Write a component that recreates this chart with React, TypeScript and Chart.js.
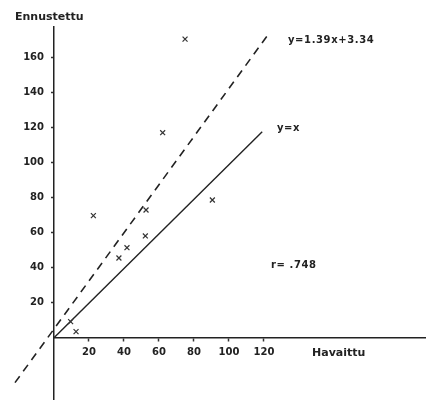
import { useEffect, useRef } from "react";
import { Chart, registerables } from "chart.js";

Chart.register(...registerables);

// Tick values
const xTicks = [20, 40, 60, 80, 100, 120];
const yTicks = [20, 40, 60, 80, 100, 120, 140, 160];

// Observed (Havaittu) vs predicted (Ennustettu)
const observed = [74.9, 62.1, 22.5, 52.6, 52.2, 41.7, 37.1, 90.5, 9.5, 12.6];
const predicted = [170.4, 117.0, 69.7, 72.9, 58.1, 51.4, 45.5, 78.6, 9.2, 3.5];

// Regression line y = 1.39x + 3.34 (end points)
const regX = [-22.3, 122.9];
const regY = [-25.6, 173.7];

// Identity line y = x
const identX = [0, 119];
const identY = [0, 117.5];

const xTitle = "Havaittu";
const yTitle = "Ennustettu";
const regLabel = "y=1.39x+3.34";
const identLabel = "y=x";
const rLabel = "r= .748";

const INK = "#222";
const FONT = '"DejaVu Sans", "Liberation Sans", sans-serif';

const zeroPadding = (s: any) => {
  s.paddingLeft = 0;
  s.paddingRight = 0;
  s.paddingTop = 0;
  s.paddingBottom = 0;
};

const textPlugin = {
  id: "textPlugin",
  afterDraw(chart: any) {
    const ctx = chart.ctx;
    ctx.save();
    ctx.fillStyle = INK;
    ctx.textAlign = "left";
    ctx.textBaseline = "middle";
    ctx.font = `bold 11px ${FONT}`;
    ctx.fillText(yTitle, 15, 17);
    ctx.fillText(xTitle, 312, 353);
    ctx.font = `bold 10px ${FONT}`;
    (ctx as any).letterSpacing = "0.6px";
    ctx.fillText(regLabel, 288, 40);
    ctx.fillText(identLabel, 277, 128);
    ctx.fillText(rLabel, 271, 265);
    (ctx as any).letterSpacing = "0px";
    ctx.restore();
  },
};

export default function App() {
  const ref = useRef<HTMLCanvasElement | null>(null);

  useEffect(() => {
    if (!ref.current) return;
    const chart = new Chart(ref.current, {
      type: "scatter",
      data: {
        datasets: [
          {
            label: "points",
            data: observed.map((x, i) => ({ x, y: predicted[i] })),
            pointStyle: "crossRot",
            pointRadius: 3.5,
            pointBorderWidth: 1.2,
            borderColor: "#333",
            backgroundColor: "#333",
            showLine: false,
          },
          {
            label: "regression",
            data: regX.map((x, i) => ({ x, y: regY[i] })),
            showLine: true,
            borderColor: INK,
            borderWidth: 1.6,
            borderDash: [8, 6],
            pointRadius: 0,
            clip: false as any,
          },
          {
            label: "identity",
            data: identX.map((x, i) => ({ x, y: identY[i] })),
            showLine: true,
            borderColor: INK,
            borderWidth: 1.4,
            pointRadius: 0,
            clip: false as any,
          },
        ],
      },
      options: {
        responsive: false,
        animation: false,
        layout: { autoPadding: false, padding: { left: 0, top: 27, right: 0, bottom: 0 } },
        plugins: {
          legend: { display: false },
          tooltip: { enabled: false },
        },
        scales: {
          x: {
            type: "linear",
            position: { y: 0 } as any,
            min: 0,
            max: 212.6,
            afterBuildTicks: (s: any) => {
              s.ticks = xTicks.map((v) => ({ value: v }));
            },
            afterFit: zeroPadding,
            grid: {
              display: true,
              drawOnChartArea: false,
              drawTicks: true,
              tickLength: 3,
              tickColor: "#333",
              tickWidth: 1.5,
            },
            border: { display: true, color: INK, width: 1.5 },
            ticks: {
              color: INK,
              padding: 6,
              maxRotation: 0,
              autoSkip: false,
              font: { family: FONT, weight: "bold", size: 10 },
              callback: (v: any) => String(v),
            },
          },
          y: {
            type: "linear",
            position: "left",
            min: -35.5,
            max: 177.3,
            afterBuildTicks: (s: any) => {
              s.ticks = yTicks.map((v) => ({ value: v }));
            },
            afterFit: (s: any) => {
              s.width = 54;
              zeroPadding(s);
            },
            grid: {
              display: true,
              drawOnChartArea: false,
              drawTicks: true,
              tickLength: 3,
              tickColor: "#333",
              tickWidth: 1.5,
            },
            border: { display: true, color: INK, width: 1.5 },
            ticks: {
              color: INK,
              padding: 7,
              autoSkip: false,
              font: { family: FONT, weight: "bold", size: 10 },
              callback: (v: any) => String(v),
            },
          },
        },
      },
      plugins: [textPlugin],
    });
    return () => chart.destroy();
  }, []);

  return (
    <div style={{ position: "fixed", left: 0, top: 0, background: "#fff" }}>
      <canvas ref={ref} width={426} height={400} style={{ width: 426, height: 400, display: "block" }} />
    </div>
  );
}
